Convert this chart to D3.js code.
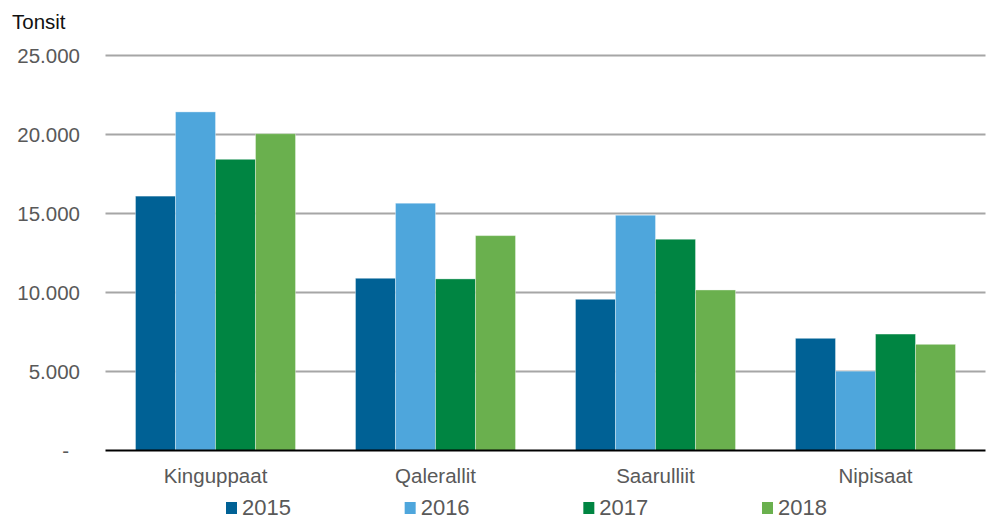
<!DOCTYPE html>
<html>
<head>
<meta charset="utf-8">
<script src="https://cdn.jsdelivr.net/npm/d3@7"></script>
<style>
  html, body { margin: 0; padding: 0; background: #fff; }
  svg { display: block; font-family: "Liberation Sans", Arial, sans-serif; }
</style>
</head>
<body>
<svg id="chart" width="995" height="520"></svg>
<script>
const categories = ["Kinguppaat", "Qalerallit", "Saarulliit", "Nipisaat"];
const years = ["2015", "2016", "2017", "2018"];
const values2015 = [16100, 10900, 9570, 7100];
const values2016 = [21430, 15650, 14890, 5020];
const values2017 = [18430, 10860, 13370, 7370];
const values2018 = [20050, 13600, 10160, 6720];
const seriesValues = [values2015, values2016, values2017, values2018];
const colors = ["#006195", "#4ea6dc", "#008542", "#6ab04e"];
const tickValues = [0, 5000, 10000, 15000, 20000, 25000];
const tickLabels = ["-", "5.000", "10.000", "15.000", "20.000", "25.000"];
const yTitle = "Tonsit";

const svg = d3.select("#chart");
const plotLeft = 105.5, plotRight = 985.5, plotTop = 55.5, plotBottom = 450.5;

const x = d3.scaleBand().domain(categories).range([plotLeft, plotRight])
  .paddingInner(0.2727).paddingOuter(0.13636);
const xi = d3.scaleBand().domain(years).range([0, x.bandwidth()]);
const y = d3.scaleLinear().domain([0, 25000]).range([plotBottom, plotTop]);

// gridlines
svg.append("g").selectAll("line").data(tickValues.filter(d => d > 0)).join("line")
  .attr("x1", plotLeft).attr("x2", plotRight)
  .attr("y1", d => y(d)).attr("y2", d => y(d))
  .attr("stroke", "#a6a6a6").attr("stroke-width", 2);

// y tick labels
svg.append("g").selectAll("text").data(tickValues).join("text")
  .attr("x", (d, i) => i === 0 ? 69 : 80)
  .attr("y", d => y(d))
  .attr("dy", "0.36em")
  .attr("text-anchor", "end")
  .attr("font-size", "20.5px")
  .attr("fill", "#595959")
  .text((d, i) => tickLabels[i]);

// title
svg.append("text").attr("x", 12).attr("y", 29)
  .attr("font-size", "20.5px").attr("fill", "#111").text(yTitle);

// bars
const rows = [];
categories.forEach((c, ci) => years.forEach((yr, si) => rows.push({c, yr, si, v: seriesValues[si][ci]})));
svg.append("g").selectAll("rect").data(rows).join("rect")
  .attr("x", d => x(d.c) + xi(d.yr))
  .attr("y", d => y(d.v))
  .attr("width", xi.bandwidth())
  .attr("height", d => y(0) - y(d.v))
  .attr("fill", d => colors[d.si])
  .attr("stroke", "rgba(255,255,255,0.35)")
  .attr("stroke-width", 1);

// x axis line
svg.append("line").attr("x1", plotLeft).attr("x2", plotRight)
  .attr("y1", plotBottom).attr("y2", plotBottom)
  .attr("stroke", "#000").attr("stroke-width", 2);

// category labels
svg.append("g").selectAll("text").data(categories).join("text")
  .attr("x", d => x(d) + x.bandwidth() / 2)
  .attr("y", 482.5)
  .attr("text-anchor", "middle")
  .attr("font-size", "20.5px")
  .attr("fill", "#595959")
  .text(d => d);

// legend
const lg = d3.scalePoint().domain(years).range([226, 762]);
const leg = svg.append("g").selectAll("g").data(years).join("g")
  .attr("transform", d => `translate(${lg(d)},0)`);
leg.append("rect").attr("x", 0).attr("y", 502).attr("width", 11).attr("height", 12)
  .attr("fill", (d, i) => colors[i]);
leg.append("text").attr("x", 16).attr("y", 515)
  .attr("font-size", "22px").attr("fill", "#595959").text(d => d);
</script>
</body>
</html>
